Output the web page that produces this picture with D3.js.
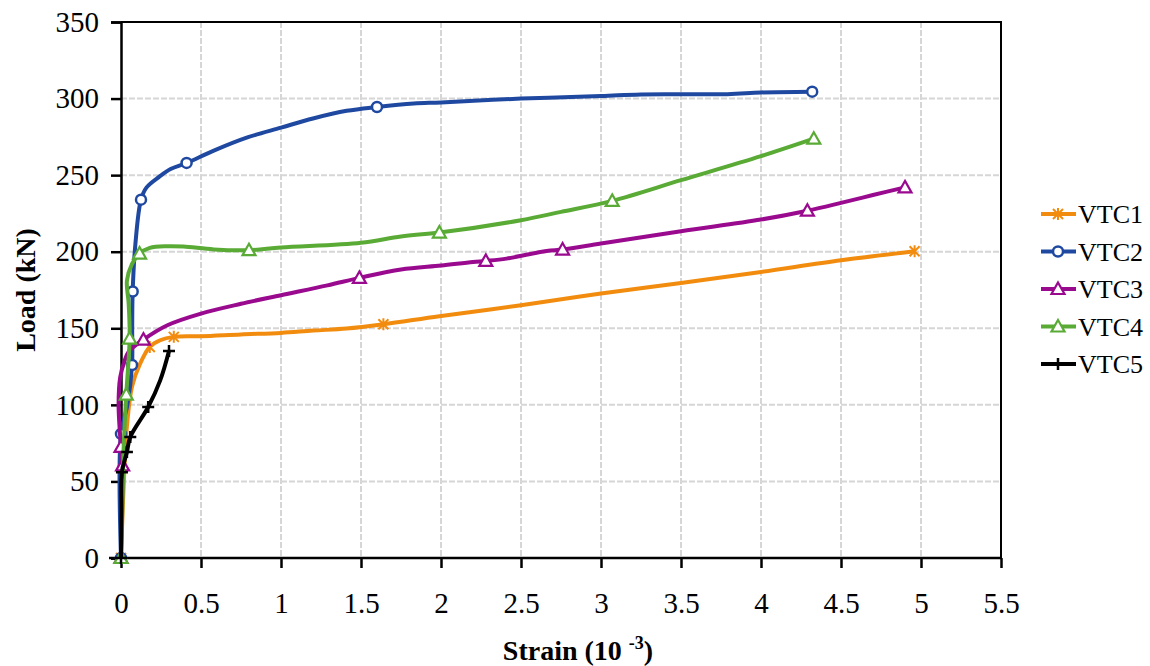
<!DOCTYPE html>
<html>
<head>
<meta charset="utf-8">
<script src="https://cdn.jsdelivr.net/npm/d3@7"></script>
<style>
  body { margin: 0; background: #fff; }
  text { font-family: "Liberation Serif", "Times New Roman", serif; }
</style>
</head>
<body>
<div id="chart"></div>
<script>
// strain (10^-3), load (kN)
var vtc1 = [[0,0],[0.01,30],[0.02,55],[0.027,70],[0.037,86],[0.069,112],[0.12,127],[0.18,137.8],[0.245,142.2],[0.33,144.4],[0.5,144.8],[0.75,146],[1.0,147],[1.2,148.5],[1.41,149.8],[1.64,152.6],[1.99,157.9],[2.5,165],[3.0,172.7],[3.5,179.6],[4.0,186.8],[4.5,194.4],[4.96,200.3]];
var vtc1Marks = [0, 7, 9, 15, 22];

var vtc2 = [[0,0],[0,81],[0.04,100],[0.069,126],[0.07,150],[0.073,174],[0.09,205],[0.125,234],[0.16,242],[0.24,249],[0.31,254],[0.41,258],[0.58,266],[0.79,274.6],[1.0,281],[1.2,287],[1.41,292],[1.6,294.5],[1.83,296.8],[2.0,297.5],[2.5,300],[3.0,301.6],[3.25,302.7],[3.79,302.9],[4.0,304],[4.32,304.5]];
var vtc2Marks = [0, 1, 3, 5, 7, 11, 17, 25];

var vtc3 = [[0,0],[0.005,30],[0.01,60.5],[0,72.5],[-0.015,100],[-0.005,118],[0.02,128],[0.05,135],[0.14,142.6],[0.29,152],[0.5,159.6],[0.75,166],[1.0,171.6],[1.29,178],[1.49,182.9],[1.75,188.4],[2.0,191],[2.2,193.3],[2.28,194],[2.41,195.5],[2.66,200.5],[2.76,201.4],[3.0,205.3],[3.5,213.4],[4.0,221],[4.29,226.8],[4.5,231.9],[4.7,237],[4.9,242]];
var vtc3Marks = [0, 2, 3, 8, 14, 18, 21, 25, 28];

var vtc4 = [[0,0],[0.01,40],[0.016,70],[0.033,106.7],[0.054,143.3],[0.048,166],[0.037,181],[0.069,192],[0.116,198.8],[0.18,202.5],[0.29,203.6],[0.39,203.4],[0.58,201.5],[0.8,201],[1.0,202.7],[1.5,205.8],[1.75,210],[1.99,212.5],[2.5,220.6],[2.75,226],[3.07,233.2],[3.5,246.7],[4.0,262.4],[4.33,273.8]];
var vtc4Marks = [0, 3, 4, 8, 13, 17, 20, 23];

var vtc5 = [[0,0],[0.003,30],[0.006,56],[0.037,69.2],[0.058,79],[0.17,98.6],[0.245,116],[0.30,135.2]];
var vtc5Marks = [0, 2, 3, 4, 5, 7];

var seriesNames = ["VTC1", "VTC2", "VTC3", "VTC4", "VTC5"];
var xTicks = [0, 0.5, 1, 1.5, 2, 2.5, 3, 3.5, 4, 4.5, 5, 5.5];
var yTicks = [0, 50, 100, 150, 200, 250, 300, 350];

var series = [
  {name: seriesNames[0], pts: vtc1, marks: vtc1Marks, color: "#f28c0f", shape: "star"},
  {name: seriesNames[1], pts: vtc2, marks: vtc2Marks, color: "#1f49a0", shape: "circle"},
  {name: seriesNames[2], pts: vtc3, marks: vtc3Marks, color: "#990a8f", shape: "tri"},
  {name: seriesNames[3], pts: vtc4, marks: vtc4Marks, color: "#5aab36", shape: "tri"},
  {name: seriesNames[4], pts: vtc5, marks: vtc5Marks, color: "#000000", shape: "plus"}
];

var W = 1150, H = 666;
var pLeft = 121, pRight = 1001, pTop = 22, pBottom = 558;

var svg = d3.select("#chart").append("svg")
    .attr("width", W).attr("height", H);

var x = d3.scaleLinear().domain([0, 5.5]).range([pLeft, pRight]);
var y = d3.scaleLinear().domain([0, 350]).range([pBottom, pTop]);

// grid
svg.append("g").selectAll("line").data(xTicks.slice(1, -1)).enter().append("line")
    .attr("x1", function(d) { return x(d); }).attr("x2", function(d) { return x(d); })
    .attr("y1", pTop).attr("y2", pBottom)
    .attr("stroke", "#d6d6d6").attr("stroke-width", 2).attr("stroke-dasharray", "6,2");
svg.append("g").selectAll("line").data(yTicks.slice(1, -1)).enter().append("line")
    .attr("y1", function(d) { return y(d); }).attr("y2", function(d) { return y(d); })
    .attr("x1", pLeft).attr("x2", pRight)
    .attr("stroke", "#d6d6d6").attr("stroke-width", 2).attr("stroke-dasharray", "6,2");

// border top + right
svg.append("path")
    .attr("d", "M" + pLeft + "," + pTop + "H" + pRight + "V" + pBottom)
    .attr("fill", "none").attr("stroke", "#000").attr("stroke-width", 2);

// axes
var xAxis = svg.append("g").attr("transform", "translate(0," + pBottom + ")")
    .call(d3.axisBottom(x).tickValues(xTicks).tickSize(10).tickPadding(24).tickFormat(d3.format("")));
var yAxis = svg.append("g").attr("transform", "translate(" + pLeft + ",0)")
    .call(d3.axisLeft(y).tickValues(yTicks).tickSize(10).tickPadding(12));
[xAxis, yAxis].forEach(function(a) {
  a.select(".domain").attr("stroke-width", 2.5);
  a.selectAll(".tick line").attr("stroke-width", 2.5);
  a.selectAll("text").attr("font-family", "Liberation Serif").attr("font-size", 29).attr("fill", "#000");
});
xAxis.select(".domain").attr("d", "M" + (pLeft - 12) + ",0H" + pRight);

// lines
var line = d3.line()
    .x(function(d) { return x(d[0]); })
    .y(function(d) { return y(d[1]); })
    .curve(d3.curveCatmullRom.alpha(0.5));

function drawMarker(g, shape, color, cx, cy) {
  if (shape == "circle") {
    g.append("circle").attr("cx", cx).attr("cy", cy).attr("r", 5)
      .attr("fill", "#fff").attr("stroke", color).attr("stroke-width", 2.5);
  } else if (shape == "tri") {
    g.append("path")
      .attr("d", "M" + cx + "," + (cy - 6.5) + "L" + (cx + 6.5) + "," + (cy + 5) + "L" + (cx - 6.5) + "," + (cy + 5) + "Z")
      .attr("fill", "#fff").attr("stroke", color).attr("stroke-width", 2.2);
  } else if (shape == "star") {
    g.append("path")
      .attr("d", "M" + (cx - 5) + "," + (cy - 5) + "L" + (cx + 5) + "," + (cy + 5) +
                 "M" + (cx + 5) + "," + (cy - 5) + "L" + (cx - 5) + "," + (cy + 5) +
                 "M" + cx + "," + (cy - 6) + "L" + cx + "," + (cy + 6))
      .attr("stroke", color).attr("stroke-width", 2).attr("fill", "none");
  } else {
    g.append("path")
      .attr("d", "M" + (cx - 6) + "," + cy + "L" + (cx + 6) + "," + cy +
                 "M" + cx + "," + (cy - 6) + "L" + cx + "," + (cy + 6))
      .attr("stroke", color).attr("stroke-width", 2.5).attr("fill", "none");
  }
}

series.forEach(function(s) {
  var g = svg.append("g");
  g.append("path").datum(s.pts)
    .attr("d", line)
    .attr("fill", "none").attr("stroke", s.color).attr("stroke-width", 4);
  s.marks.forEach(function(i) {
    drawMarker(g, s.shape, s.color, x(s.pts[i][0]), y(s.pts[i][1]));
  });
});

// legend
var leg = svg.append("g");
series.forEach(function(s, i) {
  var ly = 214 + i * 37.5;
  leg.append("line").attr("x1", 1041).attr("x2", 1076).attr("y1", ly).attr("y2", ly)
    .attr("stroke", s.color).attr("stroke-width", 4);
  drawMarker(leg, s.shape, s.color, 1058, ly);
  leg.append("text").attr("x", 1078).attr("y", ly).attr("dy", "0.35em")
    .attr("font-size", 26).text(s.name);
});

// axis titles
svg.append("text")
    .attr("transform", "translate(35,290) rotate(-90)")
    .attr("text-anchor", "middle").attr("font-size", 28).attr("font-weight", "bold")
    .text("Load (kN)");
var xt = svg.append("text")
    .attr("x", 578).attr("y", 660)
    .attr("text-anchor", "middle").attr("font-size", 28).attr("font-weight", "bold");
xt.append("tspan").text("Strain (10 ");
xt.append("tspan").attr("font-size", 18).attr("dy", -11).text("-3");
xt.append("tspan").attr("dy", 11).text(")");
</script>
</body>
</html>
